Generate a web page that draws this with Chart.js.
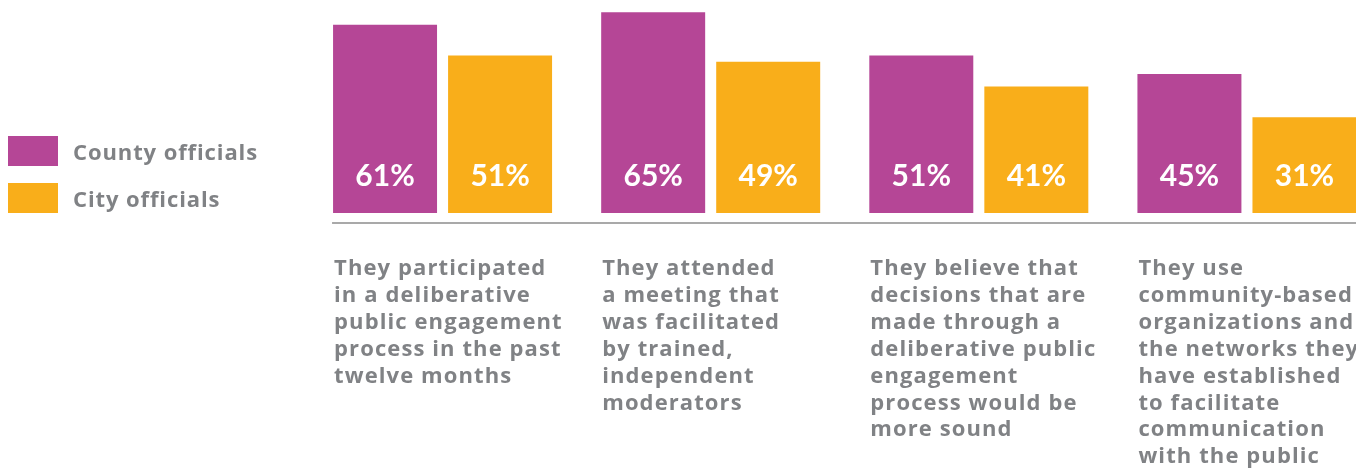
<!DOCTYPE html>
<html lang="en">
<head>
    <meta charset="UTF-8">
    <title>County and city officials</title>
    <style>
        html, body {
            margin: 0;
            padding: 0;
            background: #ffffff;
            overflow: hidden;
        }
        body {
            width: 1356px;
            height: 470px;
            position: relative;
            font-family: "Open Sans", Lato, sans-serif;
        }
        #wrap {
            position: absolute;
            left: 0;
            top: 0;
            width: 1381px;
            height: 470px;
        }
        .legend {
            position: absolute;
            left: 8px;
            top: 136px;
        }
        .legend-item {
            display: flex;
            align-items: center;
            height: 30px;
            margin-bottom: 17px;
            color: #808285;
            font-weight: bold;
            font-size: 22px;
            letter-spacing: 0.9px;
        }
        .swatch {
            width: 50px;
            height: 30px;
            margin-right: 15px;
        }
    </style>
    <script src="https://cdn.jsdelivr.net/npm/chart.js"></script>
</head>
<body>
    <div id="wrap"><canvas id="chart" width="1381" height="470"></canvas></div>
    <div class="legend">
        <div class="legend-item"><span class="swatch" style="background:#b54696"></span>County officials</div>
        <div class="legend-item"><span class="swatch" style="background:#f9ae1a"></span>City officials</div>
    </div>

    <script>
        const categories = [
            ['They participated', 'in a deliberative', 'public engagement', 'process in the past', 'twelve months'],
            ['They attended', 'a meeting that', 'was facilitated', 'by trained,', 'independent', 'moderators'],
            ['They believe that', 'decisions that are', 'made through a', 'deliberative public', 'engagement', 'process would be', 'more sound'],
            ['They use', 'community-based', 'organizations and', 'the networks they', 'have established', 'to facilitate', 'communication', 'with the public']
        ];
        const countyValues = [61, 65, 51, 45];
        const cityValues = [51, 49, 41, 31];

        const purple = '#b54696';
        const orange = '#f9ae1a';
        const textGray = '#808285';

        // value labels inside bars, axis rule and category text under each group
        const annotate = {
            id: 'annotate',
            afterDatasetsDraw(chart) {
                const ctx = chart.ctx;
                const area = chart.chartArea;
                ctx.save();

                ctx.font = 'bold 30px Lato';
                ctx.fillStyle = '#ffffff';
                ctx.textAlign = 'center';
                ctx.textBaseline = 'alphabetic';
                chart.data.datasets.forEach((ds, i) => {
                    chart.getDatasetMeta(i).data.forEach((bar, j) => {
                        ctx.fillText(ds.data[j] + '%', bar.x, area.bottom - 27);
                    });
                });

                const first = chart.getDatasetMeta(0).data;
                ctx.strokeStyle = '#8c8c8c';
                ctx.lineWidth = 1.5;
                ctx.beginPath();
                ctx.moveTo(first[0].x - first[0].width / 2 - 1, area.bottom + 10);
                ctx.lineTo(chart.width, area.bottom + 10);
                ctx.stroke();

                ctx.font = 'bold 22px "Open Sans"';
                ctx.letterSpacing = '1.1px';
                ctx.fillStyle = textGray;
                ctx.textAlign = 'left';
                chart.data.labels.forEach((lines, j) => {
                    const x = first[j].x - first[j].width / 2 + 1;
                    lines.forEach((line, k) => {
                        ctx.fillText(line, x, area.bottom + 62 + k * 26.9);
                    });
                });
                ctx.restore();
            }
        };

        new Chart(document.getElementById('chart'), {
            type: 'bar',
            data: {
                labels: categories,
                datasets: [
                    { label: 'County officials', data: countyValues, backgroundColor: purple },
                    { label: 'City officials', data: cityValues, backgroundColor: orange }
                ]
            },
            options: {
                responsive: false,
                animation: false,
                layout: { padding: { left: 308.5, right: 0, top: 0, bottom: 257 } },
                datasets: {
                    bar: { categoryPercentage: 0.858, barPercentage: 0.904 }
                },
                plugins: {
                    legend: { display: false },
                    tooltip: { enabled: false }
                },
                scales: {
                    x: { display: false },
                    y: { display: false, min: 0, max: 69 }
                }
            },
            plugins: [annotate]
        });
    </script>
</body>
</html>
